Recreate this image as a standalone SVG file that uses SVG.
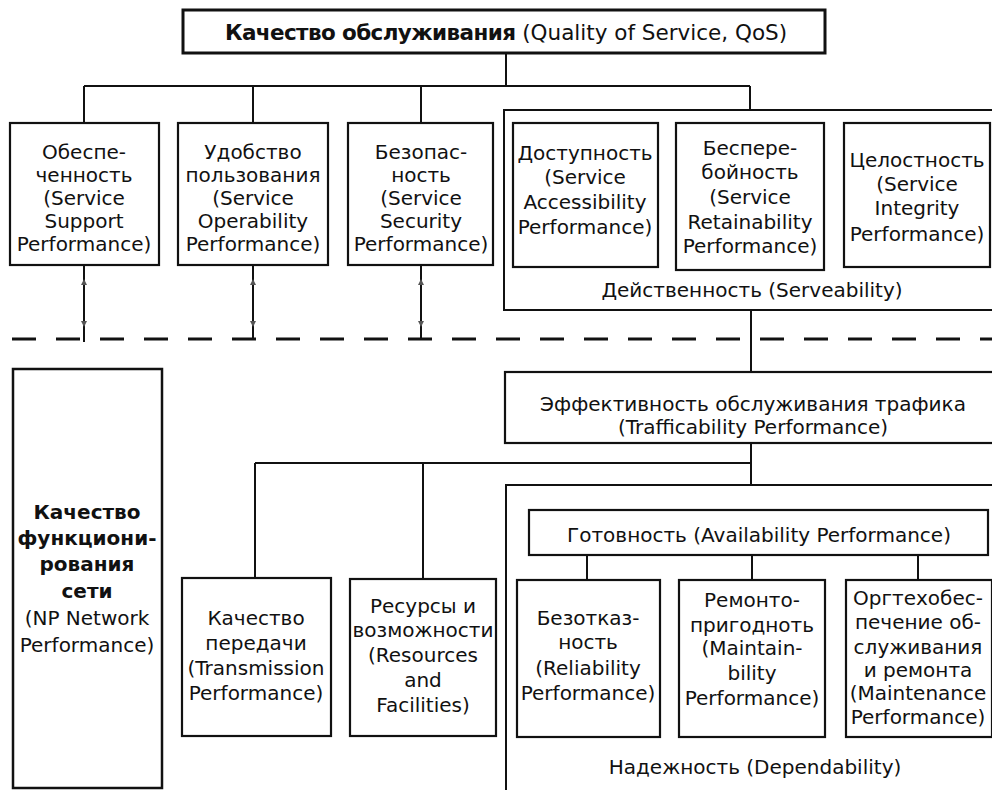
<svg xmlns="http://www.w3.org/2000/svg" width="992" height="790" viewBox="0 0 992 790">
<style>
.box{fill:#fff;stroke:#111;stroke-width:2.2}
.frame{fill:none;stroke:#111;stroke-width:2}
.ln{fill:none;stroke:#111;stroke-width:2}
.dash{fill:none;stroke:#111;stroke-width:3;stroke-dasharray:24 20}
text{font-family:"DejaVu Sans","Noto Sans",sans-serif;font-size:20px;fill:#111;text-anchor:middle}
.b{font-weight:bold}
.t{font-size:21.5px}
.ah{fill:#555}
</style>
<rect width="992" height="790" fill="#fff"/>
<g id="connectors">
<path class="ln" d="M506 53V86M84 86H750M84 86V123M253 86V123M421 86V123M750 86V110"/>
<path class="ln" d="M84 265V342M253 265V339M421 265V339"/>
<path class="ln" d="M751 310V372M751 443V485M255 463H751M255 463V578M423 463V579"/>
<path class="ln" d="M587 555V580M752 555V580M918 555V580"/>
<path class="dash" d="M12 339H992"/>
<g class="ah">
<path d="M84 279l-3 6h6z"/><path d="M84 327l-3 -6h6z"/>
<path d="M253 279l-3 6h6z"/><path d="M253 327l-3 -6h6z"/>
<path d="M421 279l-3 6h6z"/><path d="M421 327l-3 -6h6z"/>
</g>
</g>
<g id="qos">
<rect class="box" x="183" y="10" width="642" height="43" style="stroke-width:3"/>
<text class="t" x="506" y="40"><tspan class="b" style="letter-spacing:-0.6px">Качество обслуживания</tspan> (Quality of Service, QoS)</text>
</g>
<g id="support">
<rect class="box" x="10" y="123" width="149" height="142"/>
<text x="84" y="159">Обеспе-</text>
<text x="84" y="182">ченность</text>
<text x="84" y="205">(Service</text>
<text x="84" y="228">Support</text>
<text x="84" y="251">Performance)</text>
</g>
<g id="operability">
<rect class="box" x="178" y="123" width="150" height="142"/>
<text x="253" y="159">Удобство</text>
<text x="253" y="182">пользования</text>
<text x="253" y="205">(Service</text>
<text x="253" y="228">Operability</text>
<text x="253" y="251">Performance)</text>
</g>
<g id="security">
<rect class="box" x="348" y="123" width="145" height="142"/>
<text x="421" y="159">Безопас-</text>
<text x="421" y="182">ность</text>
<text x="421" y="205">(Service</text>
<text x="421" y="228">Security</text>
<text x="421" y="251">Performance)</text>
</g>
<g id="serveability">
<rect class="frame" x="504" y="110" width="500" height="200"/>
<text x="752" y="297">Действенность (Serveability)</text>
</g>
<g id="accessibility">
<rect class="box" x="513" y="123" width="145" height="144"/>
<text x="585" y="160">Доступность</text>
<text x="585" y="184">(Service</text>
<text x="585" y="209">Accessibility</text>
<text x="585" y="234">Performance)</text>
</g>
<g id="retainability">
<rect class="box" x="676" y="123" width="148" height="147"/>
<text x="750" y="155">Беспере-</text>
<text x="750" y="179">бойность</text>
<text x="750" y="204">(Service</text>
<text x="750" y="229">Retainability</text>
<text x="750" y="253">Performance)</text>
</g>
<g id="integrity">
<rect class="box" x="844" y="123" width="146" height="144"/>
<text x="917" y="167">Целостность</text>
<text x="917" y="191">(Service</text>
<text x="917" y="215">Integrity</text>
<text x="917" y="241">Performance)</text>
</g>
<g id="np">
<rect class="box" x="13" y="369" width="149" height="419" style="stroke-width:2.5"/>
<text class="b" x="87" y="519">Качество</text>
<text class="b" x="87" y="545">функциони-</text>
<text class="b" x="87" y="571">рования</text>
<text class="b" x="87" y="598">сети</text>
<text x="87" y="625">(NP Network</text>
<text x="87" y="652">Performance)</text>
</g>
<g id="trafficability">
<rect class="box" x="505" y="372" width="500" height="71"/>
<text x="753" y="411">Эффективность обслуживания трафика</text>
<text x="753" y="434">(Trafficability Performance)</text>
</g>
<g id="transmission">
<rect class="box" x="182" y="578" width="149" height="158"/>
<text x="256" y="625">Качество</text>
<text x="256" y="650">передачи</text>
<text x="256" y="675">(Transmission</text>
<text x="256" y="700">Performance)</text>
</g>
<g id="resources">
<rect class="box" x="350" y="579" width="146" height="157"/>
<text x="423" y="613">Ресурсы и</text>
<text x="423" y="637">возможности</text>
<text x="423" y="662">(Resources</text>
<text x="423" y="687">and</text>
<text x="423" y="712">Facilities)</text>
</g>
<g id="dependability">
<rect class="frame" x="506" y="485" width="500" height="320"/>
<text x="755" y="774">Надежность (Dependability)</text>
</g>
<g id="availability">
<rect class="box" x="529" y="510" width="459" height="45"/>
<text x="759" y="542">Готовность (Availability Performance)</text>
</g>
<g id="reliability">
<rect class="box" x="517" y="580" width="143" height="157"/>
<text x="588" y="625">Безотказ-</text>
<text x="588" y="649">ность</text>
<text x="588" y="675">(Reliability</text>
<text x="588" y="700">Performance)</text>
</g>
<g id="maintainability">
<rect class="box" x="679" y="580" width="146" height="157"/>
<text x="752" y="607">Ремонто-</text>
<text x="752" y="632">пригодноть</text>
<text x="752" y="655">(Maintain-</text>
<text x="752" y="680">bility</text>
<text x="752" y="705">Performance)</text>
</g>
<g id="maintenance">
<rect class="box" x="846" y="580" width="146" height="157"/>
<text x="918" y="605">Оргтехобес-</text>
<text x="918" y="629">печение об-</text>
<text x="918" y="654">служивания</text>
<text x="918" y="677">и ремонта</text>
<text x="918" y="700">(Maintenance</text>
<text x="918" y="724">Performance)</text>
</g>
</svg>
